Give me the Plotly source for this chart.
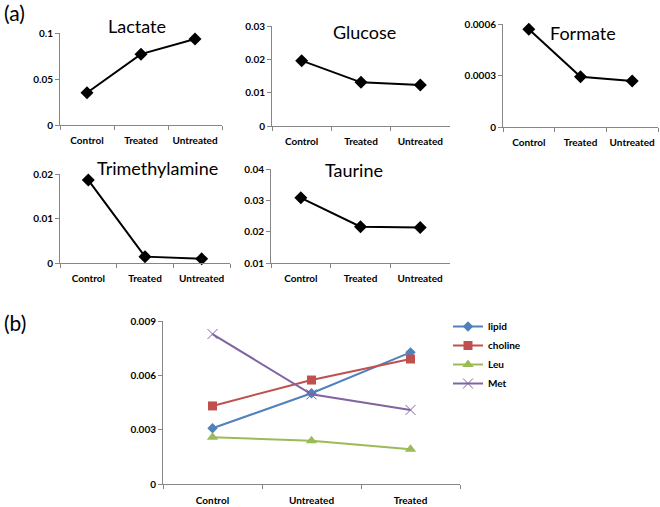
import plotly.graph_objects as go

W, H = 660, 507

groups_a = ["Control", "Treated", "Untreated"]
lactate = [0.035, 0.077, 0.0935]
glucose = [0.0196, 0.0131, 0.0123]
formate = [0.000569, 0.000293, 0.000268]
trimethylamine = [0.0187, 0.0015, 0.0010]
taurine = [0.0309, 0.0217, 0.0214]

groups_b = ["Control", "Untreated", "Treated"]
lipid = [0.00308, 0.00501, 0.00727]
choline = [0.00431, 0.00574, 0.0069]
leu = [0.00258, 0.00239, 0.00192]
met = [0.00828, 0.00495, 0.00409]

FONT = "Lato"
AXC = "#868686"

fig = go.Figure()

def px_x(x0, x1):
    return [x0 / W, x1 / W]

def px_y(y0, y1):
    return [1 - y1 / H, 1 - y0 / H]

panels = [
    ("Lactate", lactate, (60, 222), (33, 125), [0, 0.1], [0, 0.05, 0.1], ["0", "0.05", "0.1"], (137, 26)),
    ("Glucose", glucose, (272, 450), (26, 126), [0, 0.03], [0, 0.01, 0.02, 0.03], ["0", "0.01", "0.02", "0.03"], (364, 32)),
    ("Formate", formate, (503, 658), (24, 127), [0, 0.0006], [0, 0.0003, 0.0006], ["0", "0.0003", "0.0006"], (583, 33)),
    ("Trimethylamine", trimethylamine, (60, 230), (174.3, 263.3), [0, 0.02], [0, 0.01, 0.02], ["0", "0.01", "0.02"], (157, 168)),
    ("Taurine", taurine, (271, 450), (169.3, 263.3), [0.01, 0.04], [0.01, 0.02, 0.03, 0.04], ["0.01", "0.02", "0.03", "0.04"], (354, 170)),
]

tickfont = dict(family=FONT, size=10, color="#000000", weight="bold")

def xaxis_cfg(xd, ya, cats, standoff):
    return dict(domain=px_x(*xd), anchor=ya, type="category",
                categoryorder="array", categoryarray=cats,
                range=[-0.5, 2.5], tickson="boundaries", ticks="outside",
                ticklen=4, tickcolor=AXC, showline=True, linecolor=AXC,
                linewidth=1, showgrid=False, zeroline=False, tickangle=0,
                automargin=False, tickfont=tickfont,
                ticklabelstandoff=standoff, fixedrange=True)

def yaxis_cfg(yd, xa, yr, tv, tt):
    return dict(domain=px_y(*yd), anchor=xa, range=yr, tickvals=tv,
                ticktext=tt, ticks="outside", ticklen=4, tickcolor=AXC,
                showline=True, linecolor=AXC, linewidth=1, showgrid=False,
                zeroline=False, automargin=False, tickfont=tickfont,
                fixedrange=True)

for i, (name, vals, xd, yd, yr, tv, tt, tpos) in enumerate(panels):
    n = i + 1
    xa = "x" if n == 1 else f"x{n}"
    ya = "y" if n == 1 else f"y{n}"
    fig.add_trace(go.Scatter(
        x=groups_a, y=vals, xaxis=xa, yaxis=ya, mode="lines+markers",
        line=dict(color="black", width=2),
        marker=dict(symbol="diamond", size=10, color="black"),
        showlegend=False, cliponaxis=False,
    ))
    xkey = "xaxis" if n == 1 else f"xaxis{n}"
    ykey = "yaxis" if n == 1 else f"yaxis{n}"
    fig.update_layout({
        xkey: xaxis_cfg(xd, ya, groups_a, 6),
        ykey: yaxis_cfg(yd, xa, yr, tv, tt),
    })
    fig.add_annotation(x=tpos[0] / W, y=1 - tpos[1] / H, xref="paper", yref="paper",
                       text=name, showarrow=False, xanchor="center", yanchor="middle",
                       font=dict(family=FONT, size=18, color="black"))

series_b = [
    ("lipid", lipid, "#4F81BD", "diamond", 8),
    ("choline", choline, "#C0504D", "square", 9),
    ("Leu", leu, "#9BBB59", "triangle-up", 10),
    ("Met", met, "#8064A2", "x-thin", 10),
]
for name, vals, col, sym, sz in series_b:
    mk = dict(symbol=sym, size=sz, color=col)
    if sym == "x-thin":
        mk["line"] = dict(color=col, width=1)
    fig.add_trace(go.Scatter(
        x=groups_b, y=vals, xaxis="x6", yaxis="y6", mode="lines+markers",
        name=name, line=dict(color=col, width=2), marker=mk, cliponaxis=False,
    ))

fig.update_layout(
    xaxis6=xaxis_cfg((163, 460), "y6", groups_b, 7),
    yaxis6=yaxis_cfg((321, 484), "x6", [0, 0.009], [0, 0.003, 0.006, 0.009],
                     ["0", "0.003", "0.006", "0.009"]),
)

fig.add_annotation(x=2 / W, y=1 - 12 / H, xref="paper", yref="paper", text="(a)",
                   showarrow=False, xanchor="left", yanchor="middle",
                   font=dict(family=FONT, size=21, color="black"))
fig.add_annotation(x=2 / W, y=1 - 322 / H, xref="paper", yref="paper", text="(b)",
                   showarrow=False, xanchor="left", yanchor="middle",
                   font=dict(family=FONT, size=21, color="black"))

fig.update_layout(
    width=W, height=H, margin=dict(l=0, r=0, t=0, b=0, autoexpand=False),
    paper_bgcolor="white", plot_bgcolor="white",
    legend=dict(x=448 / W, y=1 - 312 / H, xanchor="left", yanchor="top",
                font=dict(family=FONT, size=10, color="black", weight="bold"),
                tracegroupgap=0, itemwidth=30, bgcolor="rgba(0,0,0,0)"),
    showlegend=True,
)

fig.write_html(
    "out.html",
    config={"displayModeBar": False},
    post_script="document.body.style.margin='0';document.body.style.overflow='hidden';",
)
